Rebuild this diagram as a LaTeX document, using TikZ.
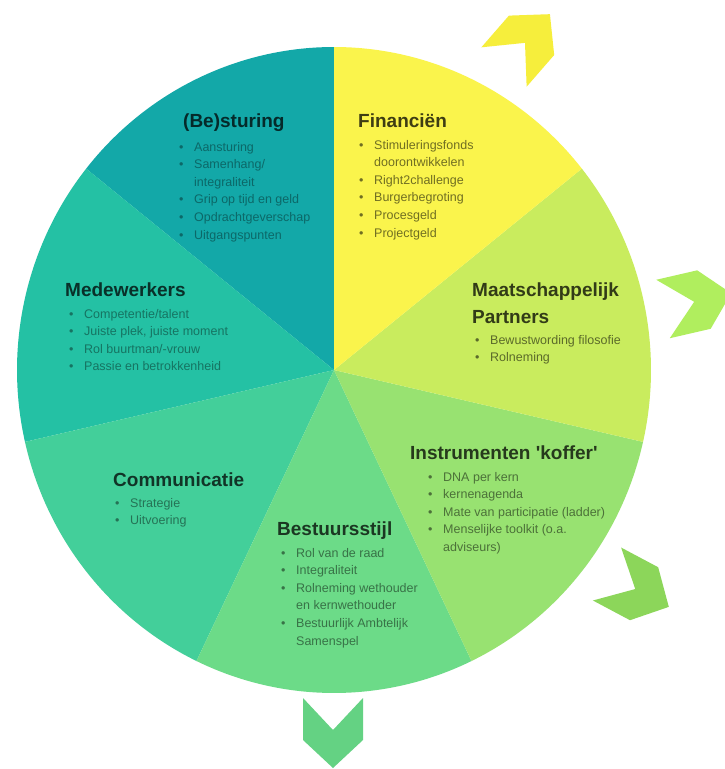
\documentclass[tikz,border=0pt]{standalone}
\usepackage{fontspec}
\setmainfont{Liberation Sans}[Ligatures=TeXOff]
\definecolor{cBes}{HTML}{13A8A8}
\definecolor{cFin}{HTML}{FAF44C}
\definecolor{cMaa}{HTML}{C9EC5E}
\definecolor{cIns}{HTML}{98E271}
\definecolor{cBst}{HTML}{6CDB88}
\definecolor{cCom}{HTML}{43CF9A}
\definecolor{cMed}{HTML}{24C1A4}
\definecolor{chY}{HTML}{F6EE3C}
\definecolor{chGa}{HTML}{B0EE5E}
\definecolor{chGb}{HTML}{8CD65A}
\definecolor{chGc}{HTML}{64D283}
\newcommand\myrx{317}
\newcommand\myry{323}
\newcommand\mysector[3]{\fill[#3] (O) -- ++(#1:\myrx pt and \myry pt) arc[start angle=#1, end angle=#2, x radius=\myrx pt, y radius=\myry pt] -- cycle;}
\newcommand\mychev[4]{\begin{scope}[shift={(#1,-#2)}, rotate=#3]
\fill[#4] (0,30) -- (32,0) -- (0,-30) -- (42,-30) -- (70,0) -- (42,30) -- cycle;
\end{scope}}
\newcommand\bl{\makebox[15pt][l]{\textbullet}}
\newcommand\ind{\hspace*{15pt}}
\tikzset{
  ttl/.style={anchor=base west, inner sep=0pt, font=\fontsize{19}{27}\selectfont\bfseries},
  lst/.style={anchor=base west, inner sep=0pt, font=\fontsize{12.5}{17.6}\selectfont}
}
\begin{document}
\begin{tikzpicture}[x=1pt,y=1pt]
\fill[white] (0,-769) rectangle (725,0);
\useasboundingbox (0,-769) rectangle (725,0);
\coordinate (O) at (334,-370);
% sectors
\mysector{90}{141.43}{cBes}
\mysector{141.43}{192.86}{cMed}
\mysector{192.86}{244.29}{cCom}
\mysector{244.29}{295.71}{cBst}
\mysector{295.71}{347.14}{cIns}
\mysector{347.14}{398.57}{cMaa}
\mysector{38.57}{90}{cFin}
% chevrons
\mychev{504}{67}{49}{chY}
\mychev{663}{309}{13}{chGa}
\mychev{607}{574}{-28}{chGb}
\mychev{333}{698}{-90}{chGc}
% (Be)sturing
\node[ttl, text=cBes!25!black] (tBes) at (183,-127) {(Be)sturing};
\node[lst, text=cBes!62!black] (lBes) at (179,-151) {\begin{tabular}[t]{@{}l@{}}\bl Aansturing\\ \bl Samenhang/\\ \ind integraliteit\\ \bl Grip op tijd en geld\\ \bl Opdrachtgeverschap\\ \bl Uitgangspunten\end{tabular}};
% Financien
\node[ttl, text=cFin!25!black] (tFin) at (358,-127) {Financiën};
\node[lst, text=cFin!45!black] (lFin) at (359,-149) {\begin{tabular}[t]{@{}l@{}}\bl Stimuleringsfonds\\ \ind doorontwikkelen\\ \bl Right2challenge\\ \bl Burgerbegroting\\ \bl Procesgeld\\ \bl Projectgeld\end{tabular}};
% Medewerkers
\node[ttl, text=cMed!25!black] (tMed) at (65,-296) {Medewerkers};
\node[lst, text=cMed!60!black] (lMed) at (69,-318) {\begin{tabular}[t]{@{}l@{}}\bl Competentie/talent\\ \bl Juiste plek, juiste moment\\ \bl Rol buurtman/-vrouw\\ \bl Passie en betrokkenheid\end{tabular}};
% Maatschappelijk Partners
\node[ttl, text=cMaa!25!black] (tMaa) at (472,-296) {\begin{tabular}[t]{@{}l@{}}Maatschappelijk\\ Partners\end{tabular}};
\node[lst, text=cMaa!45!black] (lMaa) at (475,-344) {\begin{tabular}[t]{@{}l@{}}\bl Bewustwording filosofie\\ \bl Rolneming\end{tabular}};
% Communicatie
\node[ttl, text=cCom!25!black] (tCom) at (113,-486) {Communicatie};
\node[lst, text=cCom!55!black] (lCom) at (115,-507) {\begin{tabular}[t]{@{}l@{}}\bl Strategie\\ \bl Uitvoering\end{tabular}};
% Instrumenten
\node[ttl, text=cIns!25!black] (tIns) at (410,-459) {Instrumenten 'koffer'};
\node[lst, text=cIns!50!black] (lIns) at (428,-481) {\begin{tabular}[t]{@{}l@{}}\bl DNA per kern\\ \bl kernenagenda\\ \bl Mate van participatie (ladder)\\ \bl Menselijke toolkit (o.a.\\ \ind adviseurs)\end{tabular}};
% Bestuursstijl
\node[ttl, text=cBst!25!black] (tBst) at (277,-535) {Bestuursstijl};
\node[lst, text=cBst!52!black] (lBst) at (281,-557) {\begin{tabular}[t]{@{}l@{}}\bl Rol van de raad\\ \bl Integraliteit\\ \bl Rolneming wethouder\\ \ind en kernwethouder\\ \bl Bestuurlijk Ambtelijk\\ \ind Samenspel\end{tabular}};
\end{tikzpicture}
\end{document}
